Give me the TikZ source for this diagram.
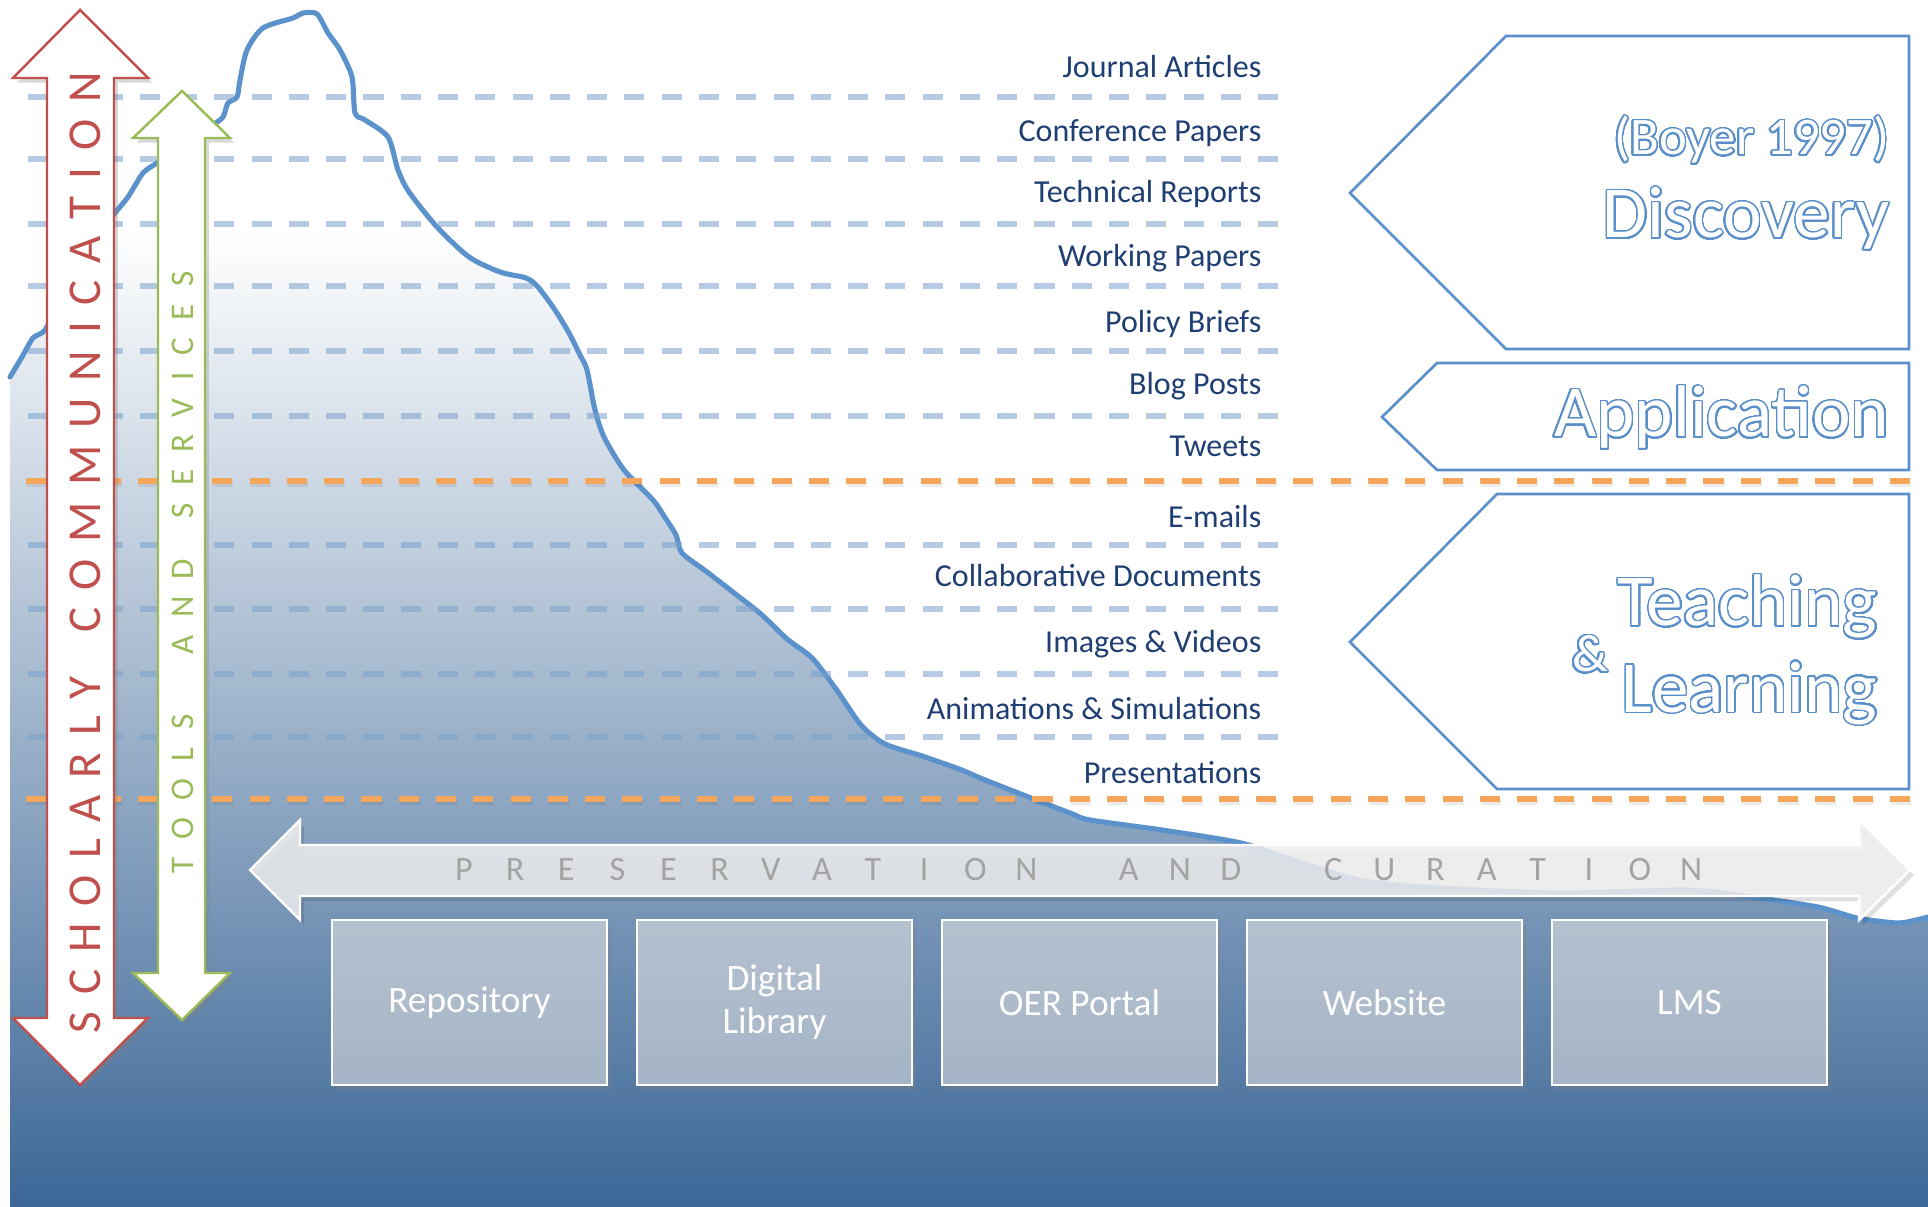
\documentclass[tikz,border=0pt]{standalone}
\usepackage{fontspec}
\setmainfont{Carlito}
\usepackage{contour}
\contourlength{0.42pt}
\contournumber{48}
\usetikzlibrary{shadows}
\definecolor{labelc}{HTML}{1F3F73}
\definecolor{curvec}{HTML}{5B92CB}
\definecolor{dashblue}{HTML}{7BA2CC}
\definecolor{orangec}{HTML}{F5A65B}
\definecolor{pentc}{HTML}{5B8FCA}
\definecolor{redc}{HTML}{C0504D}
\definecolor{greenc}{HTML}{9BBB59}
\definecolor{presc}{HTML}{A3A3A3}
\definecolor{bgbot}{HTML}{3C6797}
\definecolor{boxtop}{HTML}{B4C1CF}
\definecolor{boxbot}{HTML}{A5B4C6}
\newlength\trk
\makeatletter
\def\spaced#1{\sp@ced#1\@nil}
\def\sp@ced#1{\ifx#1\@nil\else#1\kern\trk\expandafter\sp@ced\fi}
\makeatother
\begin{document}
\begin{tikzpicture}[x=0.01cm,y=-0.01cm,
  lbl/.style={anchor=base east,inner sep=0,font=\fontsize{9.1}{11}\selectfont,text=labelc},
  bluedash/.style={draw=dashblue,draw opacity=0.55,line width=1.45pt,dash pattern=on 5.7pt off 4.9pt},
  orangedash/.style={draw=orangec,line width=1.55pt,dash pattern=on 5.7pt off 4.9pt},
  pent/.style={draw=pentc,fill=white,line width=0.75pt},
  big/.style={anchor=base east,inner sep=0,text=white,font=\fontsize{20.8}{25}\selectfont},
  presarrow/.style={fill=white!94!black,fill opacity=0.85,draw=white,line width=0.7pt},
  prestxt/.style={anchor=base,inner sep=0,text=presc,font=\fontsize{9.7}{12}\selectfont},
  sysbox/.style={minimum width=2.75cm,minimum height=1.65cm,inner sep=0,draw=white,line width=0.7pt,
     top color=boxtop,bottom color=boxbot,text=white,align=center,font=\fontsize{10.6}{12.2}\selectfont,
     drop shadow={opacity=0.3,shadow xshift=1pt,shadow yshift=-1.3pt}},
  bigarrow/.style={fill=white,line width=0.7pt,drop shadow={opacity=0.3,shadow xshift=1.1pt,shadow yshift=-1.3pt}},
  rot/.style={rotate=90,anchor=base west,inner sep=0}]
\useasboundingbox (0,0) rectangle (1928,1207);
\fill[white] (0,0) rectangle (1928,1207);
\def\curve{plot[smooth,tension=0.45] coordinates {(10,377) (22,357) (33,338) (45,330) (60,300) (75,270) (95,240) (115,213) (128,197) (143,173) (157,163) (175,150) (195,138) (213,125) (223,117) (228,103) (237,97) (240,80) (247,50) (263,28) (293,18) (303,13) (317,14) (328,33) (340,50) (352,77) (355,113) (365,120) (388,137) (398,170) (409,192) (437,227) (469,257) (500,272) (526,278) (538,287) (555,310) (569,333) (580,355) (587,370) (595,410) (604,437) (624,470) (653,500) (664,516) (676,535) (682,553) (707,572) (738,596) (762,615) (787,639) (812,658) (836,689) (861,725) (885,744) (922,756) (959,769) (985,780) (1031,798) (1070,813) (1090,820) (1162,830) (1241,843) (1293,860) (1359,880) (1425,887) (1556,893) (1687,890) (1752,897) (1818,907) (1857,918) (1897,923) (1916,920) (1928,917)}}
% gradient area under the curve
\begin{scope}
  \clip \curve -- (1928,1207) -- (10,1207) -- cycle;
  \shade[top color=white,bottom color=bgbot] (0,230) rectangle (1928,1207);
\end{scope}
\draw[curvec,line width=1.45pt,line join=round,line cap=round] \curve;
% dashed lines
\foreach \yy in {97,159,224,286,351,416,545,609,674,737}
  \draw[bluedash] (28,\yy) -- (1280,\yy);
\foreach \yy in {481,799} {
  \draw[orangedash,draw=black,draw opacity=0.07,yshift=-1pt] (27,\yy) -- (1916,\yy);
  \draw[orangedash] (26,\yy) -- (1915,\yy);
}
% labels
\node[lbl] (ja) at (1262,78) {Journal Articles};
\node[lbl] (cp) at (1262,142) {Conference Papers};
\node[lbl] (tr) at (1262,203) {Technical Reports};
\node[lbl] (wp) at (1262,267) {Working Papers};
\node[lbl] (pb) at (1262,333) {Policy Briefs};
\node[lbl] (bp) at (1262,395) {Blog Posts};
\node[lbl] (tw) at (1262,457) {Tweets};
\node[lbl] (em) at (1262,528) {E-mails};
\node[lbl] (cd) at (1262,587) {Collaborative Documents};
\node[lbl] (iv) at (1262,653) {Images \& Videos};
\node[lbl] (as) at (1262,720) {Animations \& Simulations};
\node[lbl] (pr) at (1262,783) {Presentations};
% right pentagons
\draw[pent] (1350,193) -- (1506,36) -- (1909,36) -- (1909,349) -- (1506,349) -- cycle;
\draw[pent] (1382,417) -- (1437,363) -- (1909,363) -- (1909,470) -- (1437,470) -- cycle;
\draw[pent] (1350,642) -- (1497,494) -- (1909,494) -- (1909,789) -- (1497,789) -- cycle;
\node[big,font=\fontsize{15}{18}\selectfont] (boyer) at (1890,155) {\contour{pentc}{(Boyer 1997)}};
\node[big] (disc) at (1890,238) {\contour{pentc}{Discovery}};
\node[big] (appl) at (1890,437) {\contour{pentc}{Application}};
\node[big] (teach) at (1878,626) {\contour{pentc}{Teaching}};
\node[big] (learn) at (1878,712) {\contour{pentc}{Learning}};
\node[big,anchor=base,font=\fontsize{15}{18}\selectfont] (amp) at (1590,672) {\contour{pentc}{\&}};
% preservation arrow
\fill[black,opacity=0.12] (254,875) -- (304,825) -- (304,850) -- (1863,850) -- (1863,825) -- (1914,875) -- (1863,925) -- (1863,901) -- (304,901) -- (304,925) -- cycle;
\draw[presarrow] (250,870) -- (300,820) -- (300,845) -- (1859,845) -- (1859,820) -- (1910,870) -- (1859,920) -- (1859,896) -- (300,896) -- (300,920) -- cycle;
\foreach \ch/\s in {P/0,R/1,E/2,S/3,E/4,R/5,V/6,A/7,T/8,I/9,O/10,N/11,A/13,N/14,D/15,C/17,U/18,R/19,A/20,T/21,I/22,O/23,N/24}
  \node[prestxt] (pl\s) at ({464+51.13*\s},880) {\ch};
% system boxes
\node[sysbox] (repo) at (469.5,1002.5) {Repository};
\node[sysbox] (dlib) at (774.5,1002.5) {Digital\\Library};
\node[sysbox] (oer) at (1079.5,1002.5) {OER Portal};
\node[sysbox] (web) at (1384.5,1002.5) {Website};
\node[sysbox] (lms) at (1689.5,1002.5) {LMS};
% left double arrows
\draw[bigarrow,draw=redc] (80,10) -- (148,78) -- (114,78) -- (114,1018) -- (148,1018) -- (80,1085) -- (13,1018) -- (47,1018) -- (47,78) -- (13,78) -- cycle;
\draw[bigarrow,draw=greenc] (182,91) -- (230,138) -- (205,138) -- (205,973) -- (230,973) -- (182,1020) -- (133,973) -- (158,973) -- (158,138) -- (133,138) -- cycle;
\node[rot,text=redc,font=\fontsize{13.4}{16}\selectfont] (schol) at (100,1034)
  {\setlength\trk{4.78pt}\spaced{SCHOLARLY}\kern7.7pt\spaced{COMMUNICATION}};
\node[rot,text=greenc,font=\fontsize{9.4}{12}\selectfont] (tools) at (193,874)
  {\setlength\trk{4.95pt}\spaced{TOOLS}\kern12.2pt\spaced{AND}\kern6.5pt\spaced{SERVICES}};
\end{tikzpicture}
\end{document}
